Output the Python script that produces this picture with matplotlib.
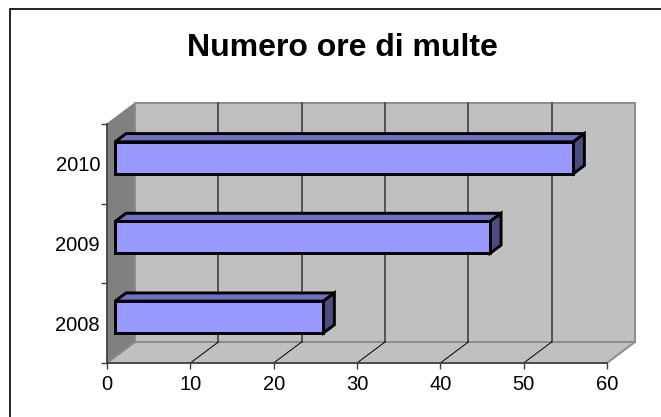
import matplotlib
matplotlib.use("Agg")
from matplotlib import pyplot as plt
from matplotlib.patches import Polygon, Rectangle

# ---------------- DATA ----------------
anni = ["2008", "2009", "2010"]
ore = [25, 45, 55]
x_ticks = [0, 10, 20, 30, 40, 50, 60]
titolo = "Numero ore di multe"

# ---------------- 3D LOOK ----------------
DX = 3.36      # depth offset in x data units
DY = 0.264     # depth offset in y data units
F1, F2 = 0.29, 0.68   # bar depth fraction (front/back)
BAR_H = 0.4

WALL = "#C0C0C0"
SIDE_WALL = "#808080"
FRONT = "#9999FF"
TOP = "#7070C0"
SIDE = "#4C4C80"

plt.rcParams["font.family"] = ["Liberation Sans", "DejaVu Sans"]

fig = plt.figure(figsize=(6.61, 4.17), dpi=100)
W, H = 661, 417
ax = fig.add_axes([107 / W, (H - 363) / H, 500 / W, 239 / H])
ax.set_xlim(0, 60)
ax.set_ylim(0, 3)
ax.patch.set_visible(False)

# border of the chart area
fig.patches.append(Rectangle((10 / W, -0.1), 1.2, 1.1 - 9 / H, transform=fig.transFigure,
                             fill=False, edgecolor="black", linewidth=1.2))

# -------- walls and floor --------
ax.add_patch(Polygon([(0, 0), (DX, DY), (DX, 3 + DY), (0, 3)], closed=True,
                     facecolor=SIDE_WALL, edgecolor="#808080", lw=0.8, clip_on=False, zorder=1))
ax.add_patch(Rectangle((DX, DY), 60, 3, facecolor=WALL, edgecolor="#8c8c8c",
                       lw=1.4, clip_on=False, zorder=1))
ax.add_patch(Polygon([(0, 0), (60, 0), (60 + DX, DY), (DX, DY)], closed=True,
                     facecolor=WALL, edgecolor="#8c8c8c", lw=1.4, clip_on=False, zorder=1))

for v in x_ticks[1:-1]:
    ax.plot([v + DX, v + DX], [DY, 3 + DY], color="#4a4a4a", lw=1.3, clip_on=False, zorder=2)
    ax.plot([v, v + DX], [0, DY], color="black", lw=0.7, clip_on=False, zorder=2)

# -------- bars --------
for i, v in enumerate(ore):
    c = i + 0.5
    lo, hi = c - BAR_H / 2, c + BAR_H / 2
    x0, x1 = F1 * DX, F2 * DX
    y0, y1 = F1 * DY, F2 * DY
    top = [(x0, hi + y0), (v + x0, hi + y0), (v + x1, hi + y1), (x1, hi + y1)]
    side = [(v + x0, lo + y0), (v + x1, lo + y1), (v + x1, hi + y1), (v + x0, hi + y0)]
    front = [(x0, lo + y0), (v + x0, lo + y0), (v + x0, hi + y0), (x0, hi + y0)]
    for pts, col in [(top, TOP), (side, SIDE), (front, FRONT)]:
        ax.add_patch(Polygon(pts, closed=True, facecolor=col, edgecolor="black",
                             lw=2.1, joinstyle="miter", clip_on=False, zorder=3))

# -------- axes --------
for s in ["top", "right"]:
    ax.spines[s].set_visible(False)
for s in ["left", "bottom"]:
    ax.spines[s].set_color("#404040")
    ax.spines[s].set_linewidth(1.2)
    ax.spines[s].set_zorder(4)

ax.set_xticks(x_ticks)
ax.set_xticklabels([str(t) for t in x_ticks])
ax.set_yticks([0.5, 1.5, 2.5])
ax.set_yticklabels(anni)
ax.set_yticks([0, 1, 2, 3], minor=True)
ax.tick_params(axis="x", length=4, width=1, color="#404040", labelsize=14.5, pad=5)
ax.tick_params(axis="y", which="major", length=0, labelsize=14.5, pad=5)
ax.tick_params(axis="y", which="minor", length=4, width=1, color="#404040")

fig.text(342 / W, 1 - 48 / H, titolo, ha="center", va="center",
         fontsize=23, fontweight="bold")

plt.savefig("out.png", dpi=100)
